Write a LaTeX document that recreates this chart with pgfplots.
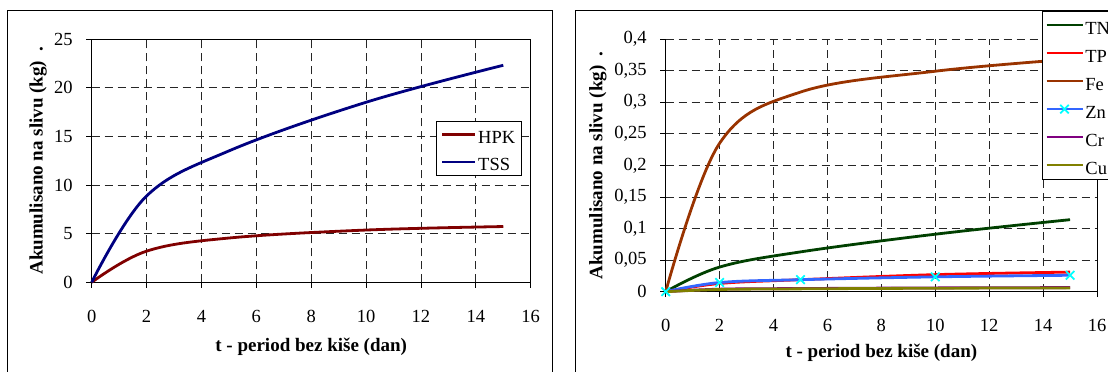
\documentclass[border=0pt]{standalone}
\usepackage{pgfplots}
\pgfplotsset{compat=1.18}
\usepackage{fontspec}
\setmainfont{Liberation Serif}
\definecolor{chpk}{RGB}{128,0,0}
\definecolor{ctss}{RGB}{0,0,128}
\definecolor{ctn}{RGB}{0,64,0}
\definecolor{ctp}{RGB}{255,0,0}
\definecolor{cfe}{RGB}{153,51,0}
\definecolor{czn}{RGB}{51,102,255}
\definecolor{czm}{RGB}{0,255,255}
\definecolor{ccr}{RGB}{128,0,128}
\definecolor{ccu}{RGB}{128,128,0}
\pgfplotsset{
  mystyle/.style={
    scale only axis,
    xmin=0, xmax=16, xtick={0,2,...,16},
    tick align=outside, major tick length=5.5pt,
    tick style={black, line width=0.8pt},
    xtick pos=bottom, ytick pos=left,
    grid=major,
    major grid style={black!85, dash pattern=on 8pt off 5pt, line width=0.8pt},
    axis line style={line width=0.9pt},
    /pgf/number format/assume math mode=true,
    label style={font=\fontsize{19}{23}\selectfont\bfseries},
    every axis plot/.append style={line width=2.8pt, smooth, tension=0.6},
    legend cell align=left,
    clip=false,
  }
}
\begin{document}
\begin{tikzpicture}[x=1pt,y=1pt]
\useasboundingbox (0,0) rectangle (1108,372);
\draw[line width=1pt] (7.3,361.3) rectangle (552.7,-20);
\draw[line width=1pt] (575.7,361.3) rectangle (1140,-20);
\begin{axis}[mystyle,
  at={(91.7pt,89.7pt)}, anchor=south west,
  width=439pt, height=243.3pt,
  ymin=0, ymax=25, ytick={0,5,...,25},
  xticklabel style={font=\fontsize{18.5}{22}\selectfont, anchor=center, yshift=-28.5pt},
  yticklabel style={font=\fontsize{18.5}{22}\selectfont, anchor=east, xshift=-10pt},
  xlabel={t - period bez kiše (dan)},
  ylabel={Akumulisano na slivu (kg) \ .},
  xlabel style={at={(axis description cs:0.5,-0.265)}, anchor=center},
  ylabel style={at={(axis description cs:-0.1223,0.5)}, anchor=center, rotate=0},
  legend image code/.code={\draw[#1] (0pt,0pt) -- (33pt,0pt);},
  legend style={at={(axis description cs:0.7843,0.6642)}, anchor=north west,
    draw=black, line width=0.8pt, fill=white,
    font=\fontsize{18.5}{22}\selectfont,
    inner xsep=4.5pt, inner ysep=2.5pt, row sep=5.4pt,
    nodes={inner sep=1.5pt, text height=18.5pt, text depth=0.5pt},
    /tikz/every even column/.append style={column sep=3pt}},
]
\addplot[chpk] coordinates {(0,0) (2,3.2) (5,4.55) (10,5.37) (15,5.73)};
\addlegendentry{HPK}
\addplot[ctss] coordinates {(0,0) (2,8.87) (5,13.5) (10,18.5) (15,22.3)};
\addlegendentry{TSS}
\end{axis}
\begin{axis}[mystyle,
  at={(665.7pt,80.3pt)}, anchor=south west,
  width=431.3pt, height=252.7pt,
  ymin=0, ymax=0.4, ytick={0,0.05,...,0.4},
  axis x line*=bottom, axis y line*=left,
  xticklabel style={font=\fontsize{18.5}{22}\selectfont, anchor=center, yshift=-28.5pt},
  yticklabel style={font=\fontsize{18.5}{22}\selectfont, anchor=east, xshift=-10pt},
  y tick label style={/pgf/number format/use comma, /pgf/number format/fixed, /pgf/number format/precision=2},
  xlabel={t - period bez kiše (dan)},
  ylabel={Akumulisano na slivu (kg) \ .},
  xlabel style={at={(axis description cs:0.5,-0.2426)}, anchor=center},
  ylabel style={at={(axis description cs:-0.157,0.5)}, anchor=center, rotate=0},
  legend image code/.code={\draw[mark repeat=2, mark phase=2, #1] plot coordinates {(0pt,0pt) (18pt,0pt) (36pt,0pt)};},
  legend style={at={(axis description cs:0.8718,1.112)}, anchor=north west,
    draw=black, line width=0.8pt, fill=white,
    font=\fontsize{18.5}{22}\selectfont,
    inner xsep=3pt, inner ysep=3pt, row sep=6pt,
    nodes={inner sep=1.5pt, text height=19pt, text depth=0pt},
    /tikz/every even column/.append style={column sep=3pt}},
]
\draw[line width=0.9pt] (rel axis cs:1,0) -- (rel axis cs:1,1);
\addplot[ctn] coordinates {(0,0) (2,0.039) (5,0.063) (10,0.091) (15,0.114)};
\addlegendentry{TN}
\addplot[ctp] coordinates {(0,0) (2,0.013) (5,0.019) (10,0.027) (15,0.031)};
\addlegendentry{TP}
\addplot[cfe] coordinates {(0,0) (2,0.235) (5,0.316) (10,0.349) (15,0.368)};
\addlegendentry{Fe}
\addplot[czn, mark=x, mark size=6pt, mark options={draw=czm, line width=1.8pt, solid}] coordinates {(0,0) (2,0.0145) (5,0.019) (10,0.0235) (15,0.026)};
\addlegendentry{Zn}
\addplot[ccr] coordinates {(0,0) (2,0.004) (5,0.005) (10,0.006) (15,0.0065)};
\addlegendentry{Cr}
\addplot[ccu] coordinates {(0,0) (2,0.0035) (5,0.0045) (10,0.0055) (15,0.006)};
\addlegendentry{Cu}
\end{axis}
\end{tikzpicture}
\end{document}
